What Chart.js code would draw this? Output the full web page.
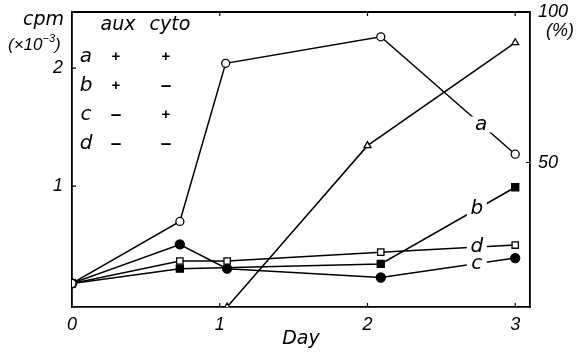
<!DOCTYPE html>
<html>
<head>
<meta charset="utf-8">
<script src="https://cdn.jsdelivr.net/npm/chart.js@4"></script>
<style>
  html, body { margin: 0; padding: 0; background: #fff; }
  #wrap { width: 586px; height: 354px; }
</style>
</head>
<body>
<div id="wrap"><canvas id="chart" width="586" height="354"></canvas></div>
<script>
// values (day, cpm x10^-3 / %)
const daysA = [0, 0.73, 1.04, 2.09, 3.0];
const cpmA = [0.175, 0.70, 2.04, 2.265, 1.27];
const daysB = [0, 0.73, 2.09, 3.0];
const cpmB = [0.175, 0.30, 0.34, 0.99];
const daysC = [0, 0.73, 1.05, 2.09, 3.0];
const cpmC = [0.175, 0.505, 0.30, 0.225, 0.39];
const daysD = [0, 0.73, 1.05, 2.09, 3.0];
const cpmD = [0.175, 0.365, 0.365, 0.44, 0.50];
const daysPct = [1.05, 2.0, 3.0];
const pct = [2, 55.6, 89.8];

const dayTicks = [0, 1, 2, 3];
const cpmTicks = [1, 2];
const pctTicks = [50, 100];

// legend table: treatment of each curve
const curveNames = ['a', 'b', 'c', 'd'];
const auxSigns = ['+', '+', '–', '–'];
const cytoSigns = ['+', '–', '+', '–'];

// where the curve letters sit on their lines (in days)
const labelDays = [2.77, 2.74, 2.74, 2.74];

const NUM_FONT = '"Liberation Sans", "DejaVu Sans", sans-serif';
const TXT_FONT = '"DejaVu Sans", sans-serif';

function pts(xs, ys) {
  return xs.map((x, i) => ({ x: x, y: ys[i] }));
}

function yAt(xs, ys, d) {
  for (let i = 1; i < xs.length; i++) {
    if (d <= xs[i]) {
      const t = (d - xs[i - 1]) / (xs[i] - xs[i - 1]);
      return ys[i - 1] + t * (ys[i] - ys[i - 1]);
    }
  }
  return ys[ys.length - 1];
}

const curveData = [[daysA, cpmA], [daysB, cpmB], [daysC, cpmC], [daysD, cpmD]];

function noPad(s) {
  s.paddingTop = 0;
  s.paddingBottom = 0;
  s.paddingLeft = 0;
  s.paddingRight = 0;
}

const decorations = {
  id: 'decorations',
  afterDatasetsDraw(chart) {
    const ctx = chart.ctx;
    const xs = chart.scales.x, ys = chart.scales.y;
    ctx.save();
    ctx.font = 'oblique 20px ' + TXT_FONT;
    ctx.textAlign = 'center';
    ctx.textBaseline = 'middle';
    curveNames.forEach((n, i) => {
      const d = labelDays[i];
      const px = xs.getPixelForValue(d);
      const py = ys.getPixelForValue(yAt(curveData[i][0], curveData[i][1], d));
      ctx.fillStyle = '#fff';
      ctx.fillRect(px - 10, py - 8, 20, 16);
      ctx.fillStyle = '#000';
      ctx.fillText(n, px, py);
    });
    ctx.restore();
  },
  afterDraw(chart) {
    const ctx = chart.ctx;
    const a = chart.chartArea;
    const xs = chart.scales.x, ys = chart.scales.y, y2 = chart.scales.y2;
    ctx.save();
    ctx.strokeStyle = '#000';
    ctx.lineWidth = 1.8;
    // top edge of the frame
    ctx.beginPath();
    ctx.moveTo(a.left, a.top);
    ctx.lineTo(a.right, a.top);
    ctx.stroke();
    // short inward ticks
    ctx.lineWidth = 1.2;
    ctx.beginPath();
    dayTicks.slice(1).forEach(v => {
      const px = xs.getPixelForValue(v);
      ctx.moveTo(px, a.bottom); ctx.lineTo(px, a.bottom - 4);
      ctx.moveTo(px, a.top); ctx.lineTo(px, a.top + 4);
    });
    cpmTicks.forEach(v => {
      const py = ys.getPixelForValue(v);
      ctx.moveTo(a.left, py); ctx.lineTo(a.left + 4, py);
    });
    const p50 = y2.getPixelForValue(50);
    ctx.moveTo(a.right, p50); ctx.lineTo(a.right - 4, p50);
    ctx.stroke();

    ctx.fillStyle = '#000';
    ctx.textBaseline = 'middle';
    // left axis title
    ctx.font = 'oblique 19px ' + TXT_FONT;
    ctx.textAlign = 'right';
    ctx.fillText('cpm', 64, 20);
    ctx.textAlign = 'left';
    const p1 = '(×10', p3 = ')';
    ctx.font = 'italic 11px ' + NUM_FONT;
    const w2 = ctx.measureText('−3').width;
    ctx.font = 'italic 17px ' + NUM_FONT;
    const w1 = ctx.measureText(p1).width;
    const x0 = 8;
    ctx.fillText(p1, x0, 45);
    ctx.font = 'italic 11px ' + NUM_FONT;
    ctx.fillText('−3', x0 + w1, 39);
    ctx.font = 'italic 17px ' + NUM_FONT;
    ctx.fillText(p3, x0 + w1 + w2, 45);
    // right axis title
    ctx.font = 'italic 18px ' + NUM_FONT;
    ctx.fillText('(%)', 546, 31);

    // treatment table
    ctx.font = 'oblique 19px ' + TXT_FONT;
    ctx.textAlign = 'center';
    ctx.fillText('aux', 118, 25);
    ctx.fillText('cyto', 170, 25);
    curveNames.forEach((n, i) => {
      const py = 57 + i * 29;
      ctx.font = 'oblique 20px ' + TXT_FONT;
      ctx.fillText(n, 86, py);
      [[auxSigns[i], 116], [cytoSigns[i], 166]].forEach(([sg, sx]) => {
        ctx.font = (sg === '+' ? 'bold 15px ' : 'bold 19px ') + NUM_FONT;
        ctx.fillText(sg, sx, py);
      });
    });
    ctx.restore();
  }
};

const lineBase = {
  borderColor: '#000',
  borderWidth: 1.5,
  tension: 0,
  fill: false,
  pointBorderColor: '#000',
  pointBorderWidth: 1.3
};

new Chart(document.getElementById('chart'), {
  type: 'line',
  data: {
    datasets: [
      Object.assign({}, lineBase, {
        label: 'a', data: pts(daysA, cpmA), yAxisID: 'y', order: 0,
        pointStyle: 'circle', pointRadius: 4, pointBackgroundColor: '#fff'
      }),
      Object.assign({}, lineBase, {
        label: 'b', data: pts(daysB, cpmB), yAxisID: 'y', order: 3,
        pointStyle: 'rect', pointRadius: 5, pointBackgroundColor: '#000'
      }),
      Object.assign({}, lineBase, {
        label: 'c', data: pts(daysC, cpmC), yAxisID: 'y', order: 2,
        pointStyle: 'circle', pointRadius: 4.5, pointBackgroundColor: '#000'
      }),
      Object.assign({}, lineBase, {
        label: 'd', data: pts(daysD, cpmD), yAxisID: 'y', order: 1,
        pointStyle: 'rect', pointRadius: 4.5, pointBackgroundColor: '#fff'
      }),
      Object.assign({}, lineBase, {
        label: '%', data: pts(daysPct, pct), yAxisID: 'y2', order: 4,
        pointStyle: 'triangle', pointRadius: 4, pointBackgroundColor: '#fff'
      })
    ]
  },
  options: {
    responsive: false,
    animation: false,
    layout: { padding: { top: 12, left: 0, right: 0, bottom: 0 } },
    plugins: { legend: { display: false }, tooltip: { enabled: false } },
    scales: {
      x: {
        type: 'linear',
        min: 0,
        max: 3.1,
        afterBuildTicks: s => { s.ticks = dayTicks.map(v => ({ value: v })); },
        afterFit: s => { s.height = 47; noPad(s); },
        grid: { display: false, drawTicks: false },
        border: { display: true, color: '#000', width: 1.8 },
        ticks: { color: '#000', padding: 7, maxRotation: 0, font: { family: NUM_FONT, size: 18, style: 'italic' } },
        title: { display: true, text: 'Day', color: '#000', padding: { top: 5 }, font: { family: TXT_FONT, size: 19, style: 'oblique' } }
      },
      y: {
        position: 'left',
        min: -0.025,
        max: 2.475,
        afterBuildTicks: s => { s.ticks = cpmTicks.map(v => ({ value: v })); },
        afterFit: s => { s.width = 72; noPad(s); },
        grid: { display: false, drawTicks: false },
        border: { display: true, color: '#000', width: 1.8 },
        ticks: { color: '#000', padding: 9, font: { family: NUM_FONT, size: 18, style: 'italic' } }
      },
      y2: {
        position: 'right',
        min: 2,
        max: 100,
        afterBuildTicks: s => { s.ticks = pctTicks.map(v => ({ value: v })); },
        afterFit: s => { s.width = 56; noPad(s); },
        grid: { display: false, drawTicks: false },
        border: { display: true, color: '#000', width: 1.8 },
        ticks: { color: '#000', padding: 8, font: { family: NUM_FONT, size: 18, style: 'italic' } }
      }
    }
  },
  plugins: [decorations]
});
</script>
</body>
</html>
